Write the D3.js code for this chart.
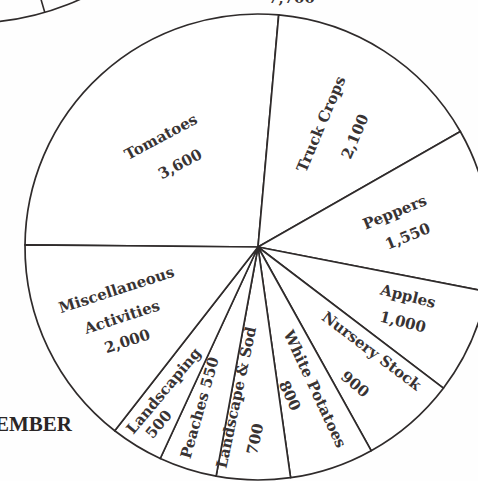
<!DOCTYPE html>
<html>
<head>
<meta charset="utf-8">
<script src="https://cdn.jsdelivr.net/npm/d3@7"></script>
<style>
  html, body { margin: 0; padding: 0; background: #ffffff; }
  svg { display: block; }
</style>
</head>
<body>
<svg id="chart" width="478" height="481"></svg>
<script>
// ---- data ----
const categories = ["Tomatoes", "Truck Crops", "Peppers", "Apples", "Nursery Stock",
  "White Potatoes", "Landscape & Sod", "Peaches", "Landscaping", "Miscellaneous Activities"];
const values = [3600, 2100, 1550, 1000, 900, 800, 700, 550, 500, 2000];
const nameLines = [["Tomatoes"], ["Truck Crops"], ["Peppers"], ["Apples"], ["Nursery Stock"],
  ["White Potatoes"], ["Landscape & Sod"], ["Peaches"], ["Landscaping"], ["Miscellaneous", "Activities"]];
const valueOnSameLine = [false, false, false, false, false, false, false, true, false, false];
const pageTextRight = "DECEMBER";
const pageTextTop = "7,700";

// ---- layout (label placement: polar angle deg clockwise from 12 o'clock, radius, rotation) ----
const labelLayout = [
  [[-41.4, 147, -28], [-43.2, 114, -28]],
  [[27.1, 138, -67], [41.2, 147, -67]],
  [[75.7, 141, -22], [85.8, 150, -22]],
  [[108.1, 158, 14], [117.3, 163, 14]],
  [[132.4, 154, 37], [144.7, 168, 40]],
  [[158.1, 153, 65], [167.9, 152, 65]],
  [[188.3, 152, -78], [180.9, 192, -78]],
  [[200.0, 171, -74]],
  [[213.3, 172, -50], [209.3, 203, -50]],
  [[253.2, 148, -18], [242.8, 153, -18], [234.3, 161, -18]]
];

const W = 478, H = 481;
const cx = 258, cy = 247, R = 233;
const ink = "#2f2b2b";
const textInk = "#383333";
const fmt = d3.format(",");
const rad = d => d * Math.PI / 180;

const svg = d3.select("#chart");
svg.append("rect").attr("width", W).attr("height", H).attr("fill", "#fefefe");

// partial neighbouring pie at the top-left corner (page context)
const other = svg.append("g").attr("transform", "translate(-29,-240)");
other.append("circle").attr("r", 263).attr("fill", "none").attr("stroke", ink).attr("stroke-width", 1.7);
const op = d3.pointRadial(rad(163.7), 263);
other.append("line").attr("x1", 0).attr("y1", 0).attr("x2", op[0]).attr("y2", op[1])
  .attr("stroke", ink).attr("stroke-width", 1.6);

svg.append("text").attr("x", 268).attr("y", 3)
  .attr("font-family", "DejaVu Serif").attr("font-weight", "bold").attr("font-size", 15)
  .attr("fill", textInk).text(pageTextTop);

svg.append("text").attr("x", 72).attr("y", 431).attr("text-anchor", "end")
  .attr("font-family", "Liberation Serif").attr("font-weight", "bold").attr("font-size", 21)
  .attr("fill", "#2a2626").text(pageTextRight);

// ---- pie ----
const start = rad(-89.5);
const pie = d3.pie().sort(null).value(d => d.value).startAngle(start).endAngle(start + 2 * Math.PI);
const data = categories.map((c, i) => ({ name: c, value: values[i], i }));
const arcs = pie(data);
const arc = d3.arc().innerRadius(0).outerRadius(R);

const g = svg.append("g").attr("transform", `translate(${cx},${cy})`);
g.selectAll("path.slice").data(arcs).join("path")
  .attr("class", "slice")
  .attr("d", arc)
  .attr("fill", "#ffffff")
  .attr("stroke", ink)
  .attr("stroke-width", 1.7)
  .attr("stroke-linejoin", "round");

// ---- labels ----
arcs.forEach((a, i) => {
  const vtxt = fmt(values[i]);
  let lines = nameLines[i].slice();
  if (valueOnSameLine[i]) lines[lines.length - 1] += " " + vtxt;
  else lines.push(vtxt);
  lines.forEach((t, k) => {
    const L = labelLayout[i][k];
    const p = d3.pointRadial(rad(L[0]), L[1]);
    g.append("text")
      .attr("transform", `translate(${p[0]},${p[1]}) rotate(${L[2]})`)
      .attr("text-anchor", "middle")
      .attr("dy", "0.35em")
      .attr("font-family", "DejaVu Serif")
      .attr("font-weight", "bold")
      .attr("font-size", 15)
      .attr("fill", textInk)
      .text(t);
  });
});
</script>
</body>
</html>
